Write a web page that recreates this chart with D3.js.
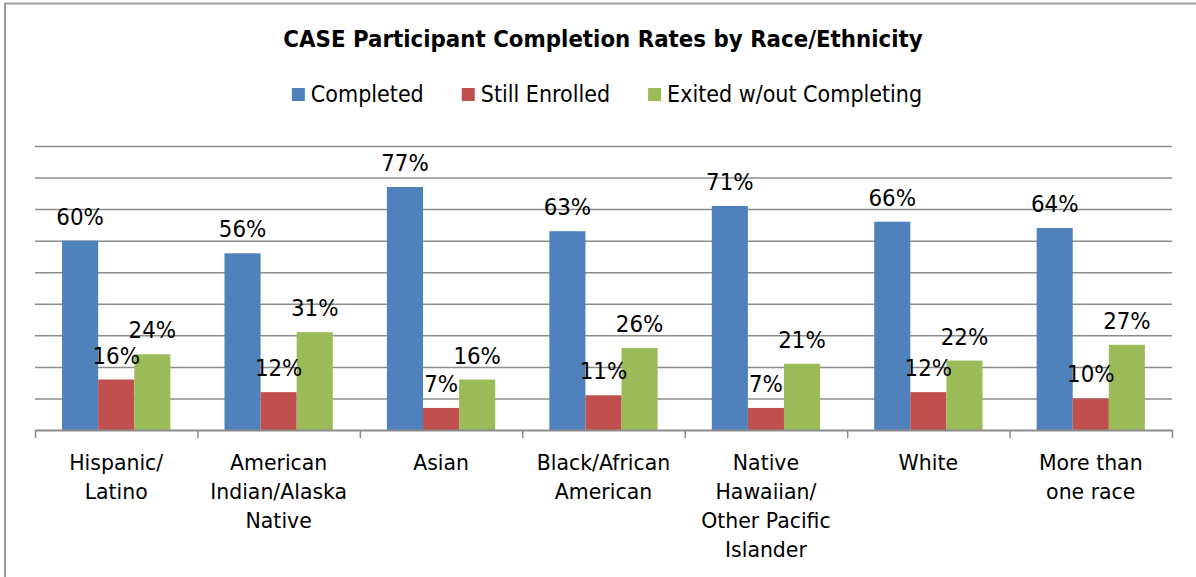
<!DOCTYPE html>
<html>
<head>
<meta charset="utf-8">
<script src="https://cdn.jsdelivr.net/npm/d3@7"></script>
<style>
    body{margin:0;background:#fff;}
    text{font-family:"DejaVu Sans",sans-serif;fill:#000;}
</style>
</head>
<body>
<svg id="chart" width="1196" height="577"></svg>
<script>
//chart data
var title = "CASE Participant Completion Rates by Race/Ethnicity";
var categoryLines = [
    ["Hispanic/", "Latino"],
    ["American", "Indian/Alaska", "Native"],
    ["Asian"],
    ["Black/African", "American"],
    ["Native", "Hawaiian/", "Other Pacific", "Islander"],
    ["White"],
    ["More than", "one race"]
];
var seriesNames = ["Completed", "Still Enrolled", "Exited w/out Completing"];
var completed = [0.60, 0.56, 0.77, 0.63, 0.71, 0.66, 0.64];
var stillEnrolled = [0.16, 0.12, 0.07, 0.11, 0.07, 0.12, 0.10];
var exited = [0.24, 0.31, 0.16, 0.26, 0.21, 0.22, 0.27];
var yTicks = [0.1, 0.2, 0.3, 0.4, 0.5, 0.6, 0.7, 0.8, 0.9];
var colors = ["#4F81BD", "#C0504D", "#9BBB59"];

(function(){
    var svg = d3.select("#chart");
    var SX = 0.93; //horizontal squeeze, tahoma-ish look
    var left = 35, right = 1172, base = 430, top = 146;

    function place(sel, x, y, sx){
        sel.attr("transform", "translate(" + x + "," + y + ") scale(" + sx + ",1)");
        return sel;
    }

    //outer frame
    svg.append("path")
        .attr("d", "M5,577 L5,3.5 L1196,3.5")
        .attr("fill", "none")
        .attr("stroke", "#9a9a9a")
        .attr("stroke-width", 2);

    var values = [completed, stillEnrolled, exited];
    var idx = d3.range(categoryLines.length);

    var x0 = d3.scaleBand().domain(idx).range([left, right]).paddingInner(0).paddingOuter(0);
    var x1 = d3.scaleBand().domain(d3.range(seriesNames.length)).range([0, x0.bandwidth()]).paddingInner(0).paddingOuter(0.75);
    var y = d3.scaleLinear().domain([0, 0.9]).range([base, top]);

    //gridlines
    var grid = svg.append("g")
        .attr("transform", "translate(" + left + ",0)")
        .call(d3.axisLeft(y).tickValues(yTicks).tickSize(-(right - left)).tickFormat(""));
    grid.select(".domain").remove();
    grid.selectAll("line").attr("stroke", "#8c8c8c").attr("stroke-width", 1.5);

    //bars
    values.forEach(function(vals, s){
        svg.append("g").selectAll("rect")
            .data(vals)
            .join("rect")
            .attr("x", function(d, i){ return x0(i) + x1(s); })
            .attr("y", function(d){ return y(d); })
            .attr("width", x1.bandwidth())
            .attr("height", function(d){ return base - y(d); })
            .attr("fill", colors[s]);
    });

    //x axis with ticks at category boundaries
    var xb = d3.scaleLinear().domain([0, categoryLines.length]).range([left, right]);
    var ax = svg.append("g")
        .attr("transform", "translate(0," + base + ")")
        .call(d3.axisBottom(xb).ticks(categoryLines.length).tickSize(8).tickSizeOuter(0).tickFormat(""));
    ax.select(".domain").attr("stroke", "#8c8c8c").attr("stroke-width", 2);
    ax.selectAll("line").attr("stroke", "#8c8c8c").attr("stroke-width", 1.5);

    //data labels
    values.forEach(function(vals, s){
        vals.forEach(function(d, i){
            place(svg.append("text"), x0(i) + x1(s) + x1.bandwidth() / 2, y(d) - 16, SX)
                .attr("text-anchor", "middle")
                .style("font-size", "23px")
                .text(Math.round(d * 100) + "%");
        });
    });

    //category labels
    categoryLines.forEach(function(lines, i){
        lines.forEach(function(line, j){
            place(svg.append("text"), x0(i) + x0.bandwidth() / 2, 470 + j * 29, SX)
                .attr("text-anchor", "middle")
                .style("font-size", "22px")
                .text(line);
        });
    });

    //title
    place(svg.append("text"), 603, 46.5, 0.95)
        .attr("text-anchor", "middle")
        .style("font-size", "22.5px")
        .style("font-weight", "bold")
        .text(title);

    //legend
    var legend = svg.append("g");
    var cursor = 0, box = 13, gap = 6, spacing = 38;
    seriesNames.forEach(function(name, s){
        legend.append("rect")
            .attr("x", cursor).attr("y", 88)
            .attr("width", box).attr("height", box)
            .attr("fill", colors[s]);
        var t = place(legend.append("text"), cursor + box + gap, 101.5, 0.9)
            .style("font-size", "23px")
            .text(name);
        cursor += box + gap + t.node().getComputedTextLength() * 0.9 + spacing;
    });
    var total = cursor - spacing;
    legend.attr("transform", "translate(" + (607 - total / 2) + ",0)");
})();
</script>
</body>
</html>
